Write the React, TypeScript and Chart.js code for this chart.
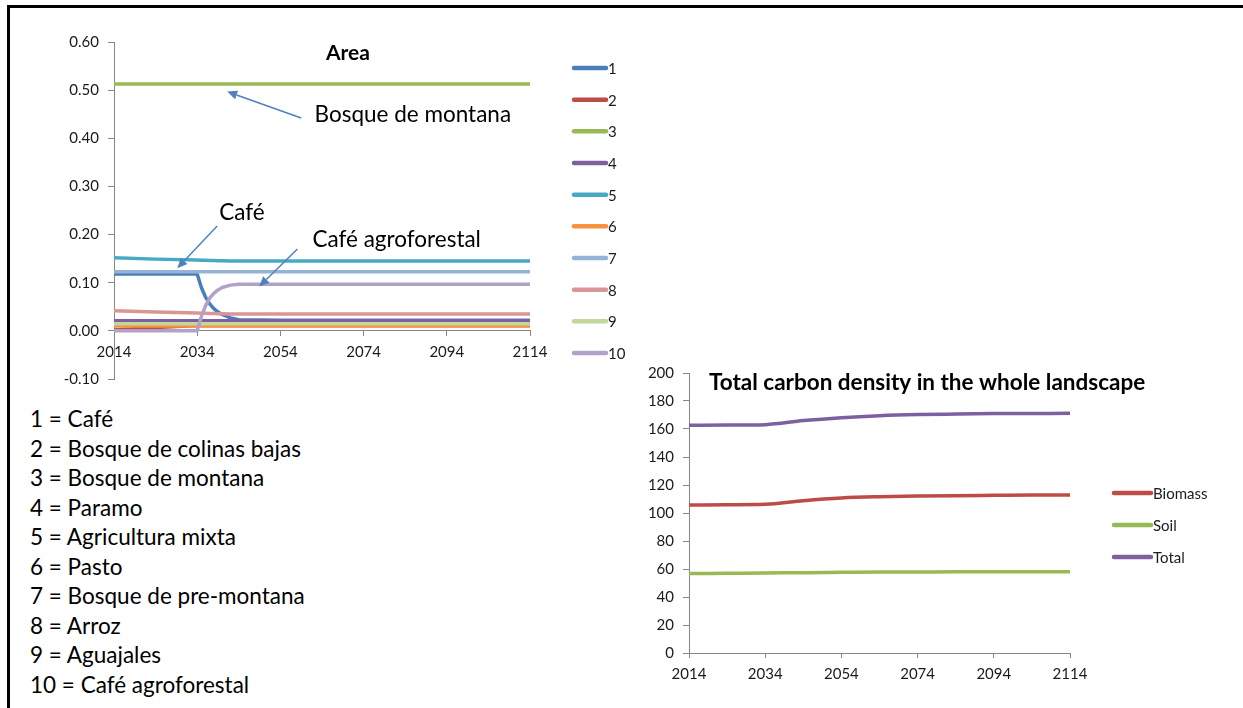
import React, { useEffect, useRef } from "react";
import { Chart, registerables } from "chart.js";

Chart.register(...registerables);

// ---------- Left chart: Area ----------
const areaYears = [2014, 2024, 2034, 2035, 2036, 2037, 2038, 2039, 2040, 2042, 2044, 2054, 2074, 2094, 2114];
const areaCafe = [0.118, 0.118, 0.118, 0.09, 0.07, 0.056, 0.046, 0.039, 0.034, 0.027, 0.023, 0.022, 0.022, 0.022, 0.022];
const areaBosqueColinas = [0.002, 0.007, 0.011, 0.011, 0.011, 0.011, 0.011, 0.011, 0.011, 0.011, 0.011, 0.011, 0.011, 0.011, 0.011];
const areaBosqueMontana = [0.513, 0.513, 0.513, 0.513, 0.513, 0.513, 0.513, 0.513, 0.513, 0.513, 0.513, 0.513, 0.513, 0.513, 0.513];
const areaParamo = [0.021, 0.021, 0.021, 0.021, 0.021, 0.021, 0.021, 0.021, 0.021, 0.021, 0.021, 0.021, 0.021, 0.021, 0.021];
const areaAgricultura = [0.152, 0.149, 0.147, 0.1468, 0.1465, 0.1462, 0.146, 0.1457, 0.1455, 0.1452, 0.145, 0.145, 0.145, 0.145, 0.145];
const areaPasto = [0.01, 0.01, 0.01, 0.01, 0.01, 0.01, 0.01, 0.01, 0.01, 0.01, 0.01, 0.01, 0.01, 0.01, 0.01];
const areaPreMontana = [0.123, 0.123, 0.123, 0.123, 0.123, 0.123, 0.123, 0.123, 0.123, 0.123, 0.123, 0.123, 0.123, 0.123, 0.123];
const areaArroz = [0.042, 0.039, 0.037, 0.0368, 0.0365, 0.0362, 0.036, 0.0357, 0.0355, 0.0352, 0.035, 0.035, 0.035, 0.035, 0.035];
const areaAguajales = [0.015, 0.015, 0.015, 0.015, 0.015, 0.015, 0.015, 0.015, 0.015, 0.015, 0.015, 0.015, 0.015, 0.015, 0.015];
const areaCafeAgro = [0, 0, 0, 0.03, 0.052, 0.068, 0.078, 0.085, 0.09, 0.095, 0.097, 0.097, 0.097, 0.097, 0.097];

const areaSeriesLabels = ["1", "2", "3", "4", "5", "6", "7", "8", "9", "10"];
const areaSeriesNames = [
  "Café",
  "Bosque de colinas bajas",
  "Bosque de montana",
  "Paramo",
  "Agricultura mixta",
  "Pasto",
  "Bosque de pre-montana",
  "Arroz",
  "Aguajales",
  "Café agroforestal",
];
const areaSeriesColors = [
  "#4A7EBB", "#BE4B48", "#98B954", "#7D60A0", "#46AAC5",
  "#F69240", "#95B3D7", "#D99694", "#C3D69B", "#B3A2C7",
];
const areaXTicks = [2014, 2034, 2054, 2074, 2094, 2114];
const areaYTicks = [-0.1, 0, 0.1, 0.2, 0.3, 0.4, 0.5, 0.6];

// ---------- Right chart: Total carbon density ----------
const carbonYears = [2014, 2024, 2034, 2044, 2054, 2064, 2074, 2084, 2094, 2104, 2114];
const carbonBiomass = [105.7, 105.9, 106.2, 108.8, 110.7, 111.6, 112.1, 112.4, 112.6, 112.8, 112.9];
const carbonSoil = [56.7, 56.9, 57.1, 57.4, 57.6, 57.8, 57.9, 58.0, 58.0, 58.1, 58.1];
const carbonTotal = [162.6, 162.8, 163.1, 166.0, 168.1, 169.5, 170.3, 170.7, 171.0, 171.1, 171.2];
const carbonLabels = ["Biomass", "Soil", "Total"];
const carbonColors = ["#BE4B48", "#98B954", "#7D60A0"];
const carbonXTicks = [2014, 2034, 2054, 2074, 2094, 2114];
const carbonYTicks = [0, 20, 40, 60, 80, 100, 120, 140, 160, 180, 200];

const FONT = "Lato, 'Open Sans', sans-serif";
const AXIS_GRAY = "#868686";
const TEXT = "#1a1a1a";
const ARROW = "#4F81BD";
const TICK_SIZE = 15;

function drawArrow(ctx: CanvasRenderingContext2D, x1: number, y1: number, x2: number, y2: number) {
  const ang = Math.atan2(y2 - y1, x2 - x1);
  const head = 10;
  const bx = x2 - Math.cos(ang) * head;
  const by = y2 - Math.sin(ang) * head;
  ctx.strokeStyle = ARROW;
  ctx.fillStyle = ARROW;
  ctx.lineWidth = 1.5;
  ctx.beginPath();
  ctx.moveTo(x1, y1);
  ctx.lineTo(bx, by);
  ctx.stroke();
  ctx.beginPath();
  ctx.moveTo(x2, y2);
  ctx.lineTo(bx + Math.sin(ang) * 4.5, by - Math.cos(ang) * 4.5);
  ctx.lineTo(bx - Math.sin(ang) * 4.5, by + Math.cos(ang) * 4.5);
  ctx.closePath();
  ctx.fill();
}

const areaOverlay = {
  id: "areaOverlay",
  afterDraw(chart: any) {
    const { ctx, scales } = chart;
    const x = scales.x;
    const y = scales.y;
    ctx.save();
    // title
    ctx.font = `bold 21px ${FONT}`;
    ctx.fillStyle = "#000";
    ctx.textAlign = "center";
    ctx.textBaseline = "middle";
    ctx.fillText("Area", 348, 53);

    // annotations (anchored in data coordinates)
    ctx.font = `22.5px ${FONT}`;
    ctx.textAlign = "left";
    ctx.fillStyle = "#000";
    ctx.fillText("Bosque de montana", x.getPixelForValue(2062.2), y.getPixelForValue(0.448));
    drawArrow(ctx, x.getPixelForValue(2059), y.getPixelForValue(0.442), x.getPixelForValue(2041.2), y.getPixelForValue(0.497));
    ctx.fillStyle = "#000";
    ctx.fillText("Café", x.getPixelForValue(2039.3), y.getPixelForValue(0.245));
    drawArrow(ctx, x.getPixelForValue(2038.8), y.getPixelForValue(0.218), x.getPixelForValue(2029.2), y.getPixelForValue(0.13));
    ctx.fillStyle = "#000";
    ctx.fillText("Café agroforestal", x.getPixelForValue(2061.7), y.getPixelForValue(0.189));
    drawArrow(ctx, x.getPixelForValue(2058.1), y.getPixelForValue(0.17), x.getPixelForValue(2048.9), y.getPixelForValue(0.092));

    // legend
    const lx = chart.chartArea.right + 44;
    ctx.font = `15px ${FONT}`;
    ctx.textBaseline = "middle";
    chart.data.datasets.forEach((ds: any, i: number) => {
      const ly = 68 + i * 31.67;
      ctx.strokeStyle = ds.borderColor;
      ctx.lineWidth = 4.5;
      ctx.lineCap = "round";
      ctx.beginPath();
      ctx.moveTo(lx, ly);
      ctx.lineTo(lx + 32, ly);
      ctx.stroke();
      ctx.fillStyle = TEXT;
      ctx.fillText(ds.label, lx + 34, ly + 1);
    });
    ctx.restore();
  },
};

const carbonOverlay = {
  id: "carbonOverlay",
  afterDraw(chart: any) {
    const { ctx } = chart;
    ctx.save();
    ctx.font = `bold 22.5px ${FONT}`;
    ctx.fillStyle = "#000";
    ctx.textAlign = "left";
    ctx.textBaseline = "middle";
    ctx.fillText("Total carbon density in the whole landscape", 109, 43);

    const lx = chart.chartArea.right + 44;
    ctx.font = `15px ${FONT}`;
    chart.data.datasets.forEach((ds: any, i: number) => {
      const ly = 153 + i * 32;
      ctx.strokeStyle = ds.borderColor;
      ctx.lineWidth = 4.5;
      ctx.lineCap = "round";
      ctx.beginPath();
      ctx.moveTo(lx, ly);
      ctx.lineTo(lx + 37, ly);
      ctx.stroke();
      ctx.fillStyle = TEXT;
      ctx.fillText(ds.label, lx + 39, ly + 1);
    });
    ctx.restore();
  },
};

function pts(xs: number[], ys: number[]) {
  return xs.map((x, i) => ({ x, y: ys[i] }));
}

export default function App() {
  const leftRef = useRef<HTMLCanvasElement | null>(null);
  const rightRef = useRef<HTMLCanvasElement | null>(null);

  useEffect(() => {
    document.body.style.margin = "0";
    const areaValues = [
      areaCafe, areaBosqueColinas, areaBosqueMontana, areaParamo, areaAgricultura,
      areaPasto, areaPreMontana, areaArroz, areaAguajales, areaCafeAgro,
    ];
    const left = new Chart(leftRef.current as HTMLCanvasElement, {
      type: "line",
      data: {
        datasets: areaValues.map((vals, i) => ({
          label: areaSeriesLabels[i],
          data: pts(areaYears, vals),
          borderColor: areaSeriesColors[i],
          backgroundColor: areaSeriesColors[i],
          borderWidth: 3.5,
          pointRadius: 0,
          tension: 0,
          borderJoinStyle: "round",
          order: -i,
        })),
      },
      options: {
        animation: false,
        responsive: false,
        maintainAspectRatio: false,
        layout: { padding: { left: 0, right: 110, top: 42, bottom: 21 } },
        plugins: { legend: { display: false }, tooltip: { enabled: false } },
        scales: {
          x: {
            type: "linear",
            min: 2014,
            max: 2114,
            position: { y: 0 } as any,
            afterBuildTicks: (ax: any) => {
              ax.ticks = areaXTicks.map((v) => ({ value: v }));
            },
            ticks: {
              callback: (v: any) => String(v),
              font: { family: FONT, size: TICK_SIZE },
              color: TEXT,
              padding: 7,
              maxRotation: 0,
              autoSkip: false,
            },
            grid: { drawOnChartArea: false, drawTicks: true, tickLength: 5, color: AXIS_GRAY },
            border: { color: AXIS_GRAY },
          },
          y: {
            type: "linear",
            min: -0.1,
            max: 0.6,
            afterBuildTicks: (ax: any) => {
              ax.ticks = areaYTicks.map((v) => ({ value: v }));
            },
            afterFit: (ax: any) => {
              ax.width = 114;
            },
            ticks: {
              callback: (v: any) => Number(v).toFixed(2),
              font: { family: FONT, size: TICK_SIZE },
              color: TEXT,
              padding: 9,
            },
            grid: { drawOnChartArea: false, drawTicks: true, tickLength: 6, color: AXIS_GRAY },
            border: { color: AXIS_GRAY },
          },
        },
      } as any,
      plugins: [areaOverlay],
    });

    const carbonValues = [carbonBiomass, carbonSoil, carbonTotal];
    const right = new Chart(rightRef.current as HTMLCanvasElement, {
      type: "line",
      data: {
        datasets: carbonValues.map((vals, i) => ({
          label: carbonLabels[i],
          data: pts(carbonYears, vals),
          borderColor: carbonColors[i],
          backgroundColor: carbonColors[i],
          borderWidth: 3.5,
          pointRadius: 0,
          cubicInterpolationMode: "monotone",
          order: -i,
        })),
      },
      options: {
        animation: false,
        responsive: false,
        maintainAspectRatio: false,
        layout: { padding: { left: 0, right: 173, top: 33, bottom: 0 } },
        plugins: { legend: { display: false }, tooltip: { enabled: false } },
        scales: {
          x: {
            type: "linear",
            min: 2014,
            max: 2114,
            afterBuildTicks: (ax: any) => {
              ax.ticks = carbonXTicks.map((v) => ({ value: v }));
            },
            afterFit: (ax: any) => {
              ax.height = 55;
            },
            ticks: {
              callback: (v: any) => String(v),
              font: { family: FONT, size: TICK_SIZE },
              color: TEXT,
              padding: 7,
              maxRotation: 0,
              autoSkip: false,
            },
            grid: { drawOnChartArea: false, drawTicks: true, tickLength: 5, color: AXIS_GRAY },
            border: { color: AXIS_GRAY },
          },
          y: {
            type: "linear",
            min: 0,
            max: 200,
            afterBuildTicks: (ax: any) => {
              ax.ticks = carbonYTicks.map((v) => ({ value: v }));
            },
            afterFit: (ax: any) => {
              ax.width = 89;
            },
            ticks: {
              callback: (v: any) => String(v),
              font: { family: FONT, size: TICK_SIZE },
              color: TEXT,
              padding: 9,
            },
            grid: { drawOnChartArea: false, drawTicks: true, tickLength: 6, color: AXIS_GRAY },
            border: { color: AXIS_GRAY },
          },
        },
      } as any,
      plugins: [carbonOverlay],
    });

    return () => {
      left.destroy();
      right.destroy();
    };
  }, []);

  return (
    <div style={{ position: "relative", width: 1243, height: 708, overflow: "hidden", background: "#fff" }}>
      <div
        style={{
          position: "absolute",
          left: 7,
          top: 5,
          right: 0,
          bottom: 0,
          borderTop: "3px solid #000",
          borderLeft: "3px solid #000",
        }}
      />
      <canvas ref={leftRef} width={640} height={400} style={{ position: "absolute", left: 0, top: 0, width: 640, height: 400 }} />
      <canvas ref={rightRef} width={643} height={368} style={{ position: "absolute", left: 600, top: 340, width: 643, height: 368 }} />
      <div
        style={{
          position: "absolute",
          left: 30,
          top: 404,
          fontFamily: FONT,
          fontSize: 22.5,
          lineHeight: "29.5px",
          color: "#000",
        }}
      >
        {areaSeriesNames.map((n, i) => (
          <div key={i}>{`${areaSeriesLabels[i]} = ${n}`}</div>
        ))}
      </div>
    </div>
  );
}
